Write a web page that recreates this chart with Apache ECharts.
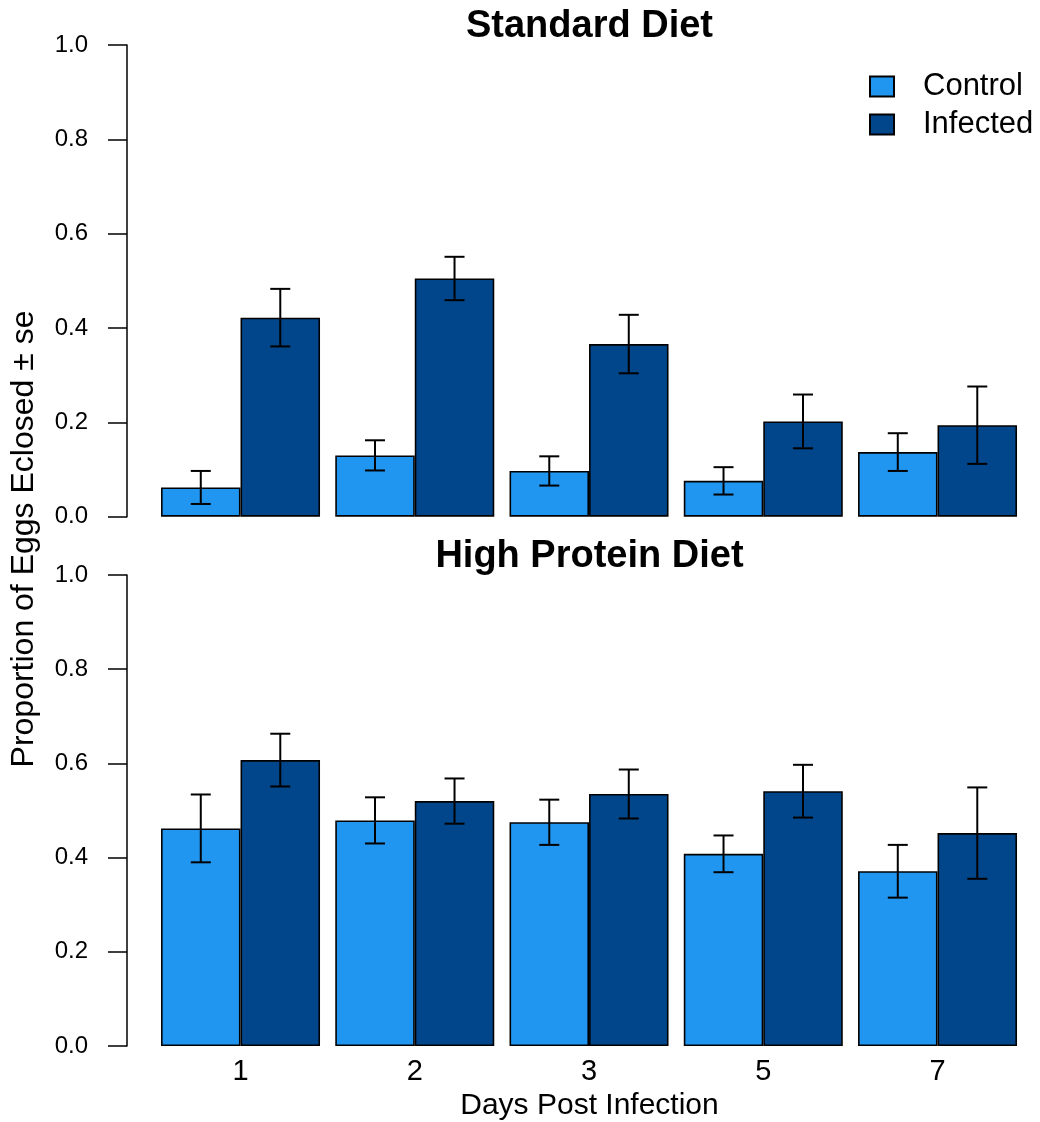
<!DOCTYPE html>
<html>
<head>
<meta charset="utf-8">
<title>Egg eclosion by diet</title>
<script src="https://cdn.jsdelivr.net/npm/echarts@6/dist/echarts.min.js"></script>
<style>
  html, body { margin: 0; padding: 0; background: #ffffff; }
  #chart { width: 1040px; height: 1122px; }
</style>
</head>
<body>
<div id="chart"></div>
<script>
// Days post infection (x categories)
const days = ['1', '2', '3', '5', '7'];

// Standard diet: mean proportion eclosed and standard error
const stdControl = [0.062, 0.130, 0.097, 0.076, 0.137];
const stdControlSE = [0.035, 0.032, 0.031, 0.029, 0.040];
const stdInfected = [0.422, 0.505, 0.366, 0.202, 0.194];
const stdInfectedSE = [0.061, 0.046, 0.062, 0.057, 0.082];

// High protein diet
const hpControl = [0.462, 0.479, 0.475, 0.408, 0.371];
const hpControlSE = [0.072, 0.049, 0.048, 0.039, 0.056];
const hpInfected = [0.607, 0.520, 0.535, 0.541, 0.452];
const hpInfectedSE = [0.056, 0.048, 0.052, 0.056, 0.097];

// Y tick values
const yTicks = [0, 0.2, 0.4, 0.6, 0.8, 1.0];

const FONT = 'Liberation Sans, Arial, Helvetica, sans-serif';
const CONTROL_COLOR = '#2196F1';
const INFECTED_COLOR = '#01468A';
const GAP = 0.0875; // gap between day groups, fraction of category width

const chart = echarts.init(document.getElementById('chart'), null, { renderer: 'canvas' });

function barSeries(name, values, idx, color) {
  return {
    name: name,
    type: 'bar',
    xAxisIndex: idx,
    yAxisIndex: idx,
    data: values,
    barGap: '0%',
    barCategoryGap: (GAP * 100) + '%',
    itemStyle: { color: color, borderColor: '#000', borderWidth: 1.6 },
    emphasis: { disabled: true },
    z: 2
  };
}

// side = -1 for the left bar of a group, +1 for the right one
function errorSeries(values, ses, idx, side) {
  return {
    type: 'custom',
    xAxisIndex: idx,
    yAxisIndex: idx,
    z: 5,
    silent: true,
    data: values.map((v, i) => [i, v, ses[i]]),
    renderItem: function (params, api) {
      const i = api.value(0);
      const m = api.value(1);
      const se = api.value(2);
      const band = api.size([1, 0])[0];
      const bw = band * (1 - GAP) / 2;
      const c = api.coord([i, m]);
      const x = c[0] + side * bw / 2;
      const yTop = api.coord([i, m + se])[1];
      const yBot = api.coord([i, m - se])[1];
      const cap = 10;
      const st = { stroke: '#000', lineWidth: 2 };
      return {
        type: 'group',
        children: [
          { type: 'line', shape: { x1: x, y1: yTop, x2: x, y2: yBot }, style: st },
          { type: 'line', shape: { x1: x - cap, y1: yTop, x2: x + cap, y2: yTop }, style: st },
          { type: 'line', shape: { x1: x - cap, y1: yBot, x2: x + cap, y2: yBot }, style: st }
        ]
      };
    }
  };
}

const gridLeft = 153.4;
const gridWidth = 871.25;
const axisX = 127;

function yAxisDef(idx) {
  return {
    type: 'value',
    gridIndex: idx,
    min: 0,
    max: 1,
    interval: 0.2,
    offset: gridLeft - axisX,
    axisLine: { show: true, lineStyle: { color: '#000', width: 1.5 } },
    axisTick: { show: true, length: 19, lineStyle: { color: '#000', width: 1.5 } },
    axisLabel: {
      show: true, margin: 39, color: '#000', fontFamily: FONT, fontSize: 24,
      formatter: v => (yTicks.some(t => Math.abs(t - v) < 1e-9) ? v.toFixed(1) : '')
    },
    splitLine: { show: false }
  };
}

function xAxisDef(idx, showLabels) {
  return {
    type: 'category',
    gridIndex: idx,
    data: days,
    axisLine: { show: false },
    axisTick: { show: false },
    splitLine: { show: false },
    axisLabel: {
      show: showLabels, color: '#000', fontFamily: FONT, fontSize: 29,
      lineHeight: 29, margin: 11
    }
  };
}

const option = {
  backgroundColor: '#ffffff',
  animation: false,
  textStyle: { fontFamily: FONT },
  title: [
    {
      text: 'Standard Diet', left: 589.5, top: 8, padding: 0, textAlign: 'center',
      textStyle: { fontFamily: FONT, fontSize: 38, fontWeight: 'bold', color: '#000', lineHeight: 38 }
    },
    {
      text: 'High Protein Diet', left: 589.5, top: 538, padding: 0, textAlign: 'center',
      textStyle: { fontFamily: FONT, fontSize: 38, fontWeight: 'bold', color: '#000', lineHeight: 38 }
    }
  ],
  legend: {
    orient: 'vertical',
    left: 869,
    top: 71,
    padding: 0,
    itemWidth: 24,
    itemHeight: 20,
    itemGap: 7,
    icon: 'rect',
    selectedMode: false,
    data: ['Control', 'Infected'],
    textStyle: { fontFamily: FONT, fontSize: 31, color: '#000', lineHeight: 31, padding: [0, 0, 0, 24] }
  },
  grid: [
    { left: gridLeft, width: gridWidth, top: 45, height: 471.7 },
    { left: gridLeft, width: gridWidth, top: 575, height: 471 }
  ],
  xAxis: [xAxisDef(0, false), xAxisDef(1, true)],
  yAxis: [yAxisDef(0), yAxisDef(1)],
  series: [
    barSeries('Control', stdControl, 0, CONTROL_COLOR),
    barSeries('Infected', stdInfected, 0, INFECTED_COLOR),
    barSeries('Control', hpControl, 1, CONTROL_COLOR),
    barSeries('Infected', hpInfected, 1, INFECTED_COLOR),
    errorSeries(stdControl, stdControlSE, 0, -1),
    errorSeries(stdInfected, stdInfectedSE, 0, 1),
    errorSeries(hpControl, hpControlSE, 1, -1),
    errorSeries(hpInfected, hpInfectedSE, 1, 1)
  ],
  graphic: [
    {
      type: 'text',
      x: 24, y: 539,
      rotation: Math.PI / 2,
      style: {
        text: 'Proportion of Eggs Eclosed ± se',
        font: '32px ' + FONT,
        fill: '#000',
        textAlign: 'center',
        textVerticalAlign: 'middle'
      }
    },
    {
      type: 'text',
      x: 589.5, y: 1106,
      style: {
        text: 'Days Post Infection',
        font: '30px ' + FONT,
        fill: '#000',
        textAlign: 'center',
        textVerticalAlign: 'middle'
      }
    }
  ]
};

chart.setOption(option);
</script>
</body>
</html>
